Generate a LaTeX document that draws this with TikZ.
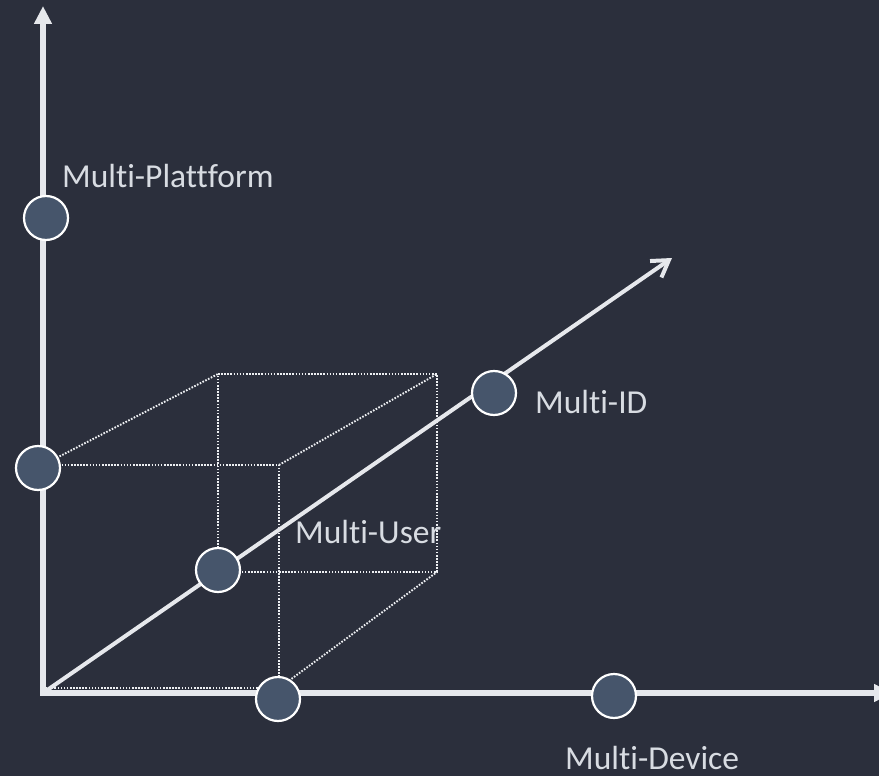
\documentclass[tikz,border=0pt]{standalone}
\usepackage{fontspec}
\setmainfont{Carlito}[Ligatures={NoCommon}]
\usetikzlibrary{arrows.meta}
\definecolor{bgdark}{HTML}{2B2F3C}
\definecolor{axiscol}{HTML}{E6E8EC}
\definecolor{dotcol}{HTML}{EEF0F3}
\definecolor{dotfill}{HTML}{46556B}
\definecolor{labelcol}{HTML}{D8DCE2}
\tikzset{
  axis/.style={draw=axiscol, line width=6pt},
  diag/.style={draw=axiscol, line width=4pt},
  guide/.style={draw=dotcol, line width=1.9pt, dash pattern=on 1.6pt off 1.5pt},
  dot/.style={circle, draw=white, line width=2.2pt, fill=dotfill, minimum size=44pt, inner sep=0pt},
  lbl/.style={text=labelcol, font=\fontsize{33.5}{38}\selectfont, anchor=base west, inner sep=0pt}
}
\begin{document}
\begin{tikzpicture}[x=1pt, y=-1pt]
  \fill[bgdark] (0,0) rectangle (879,776);
  \useasboundingbox (0,0) rectangle (879,776);

  % axes
  \coordinate (o) at (43,693);
  \coordinate (ytip) at (43,6);
  \coordinate (xtip) at (892,693);
  \coordinate (ztip) at (672,258);

  % dotted cube
  \coordinate (f1) at (43,465);
  \coordinate (f2) at (279,465);
  \coordinate (f3) at (279,688);
  \coordinate (f4) at (43,688);
  \coordinate (b1) at (218,374);
  \coordinate (b2) at (437,374);
  \coordinate (b3) at (437,572);
  \coordinate (b4) at (218,572);
  \draw[guide] (f1) -- (f2) -- (f3) -- (f4);
  \draw[guide] (b1) -- (b2) -- (b3) -- (b4) -- cycle;
  \draw[guide] (f1) -- (b1);
  \draw[guide] (f2) -- (b2);
  \draw[guide] (f3) -- (b3);

  \draw[axis, -{Triangle[width=17pt,length=18pt]}] (o) -- (ytip);
  \draw[axis, -{Triangle[width=17pt,length=18pt]}] (o) -- (xtip);
  \draw[axis, line cap=butt] (40,693) -- (o);
  \draw[diag, -{Straight Barb[length=16pt,width=20pt,line width=4pt]}] (o) -- (ztip);

  % markers
  \node[dot] (plat) at (46,218) {};
  \node[dot] (mid) at (38,468) {};
  \node[dot] (user) at (218,570) {};
  \node[dot] (dev1) at (278,699) {};
  \node[dot] (dev2) at (614,696) {};
  \node[dot] (id) at (494,393) {};

  % labels
  \node[lbl] (tplat) at (62,187) {Multi-Plattform};
  \node[lbl] (tid) at (535,413) {Multi-ID};
  \node[lbl] (tuser) at (295,543) {Multi-User};
  \node[lbl] (tdev) at (565,769) {Multi-Device};
\end{tikzpicture}
\end{document}
